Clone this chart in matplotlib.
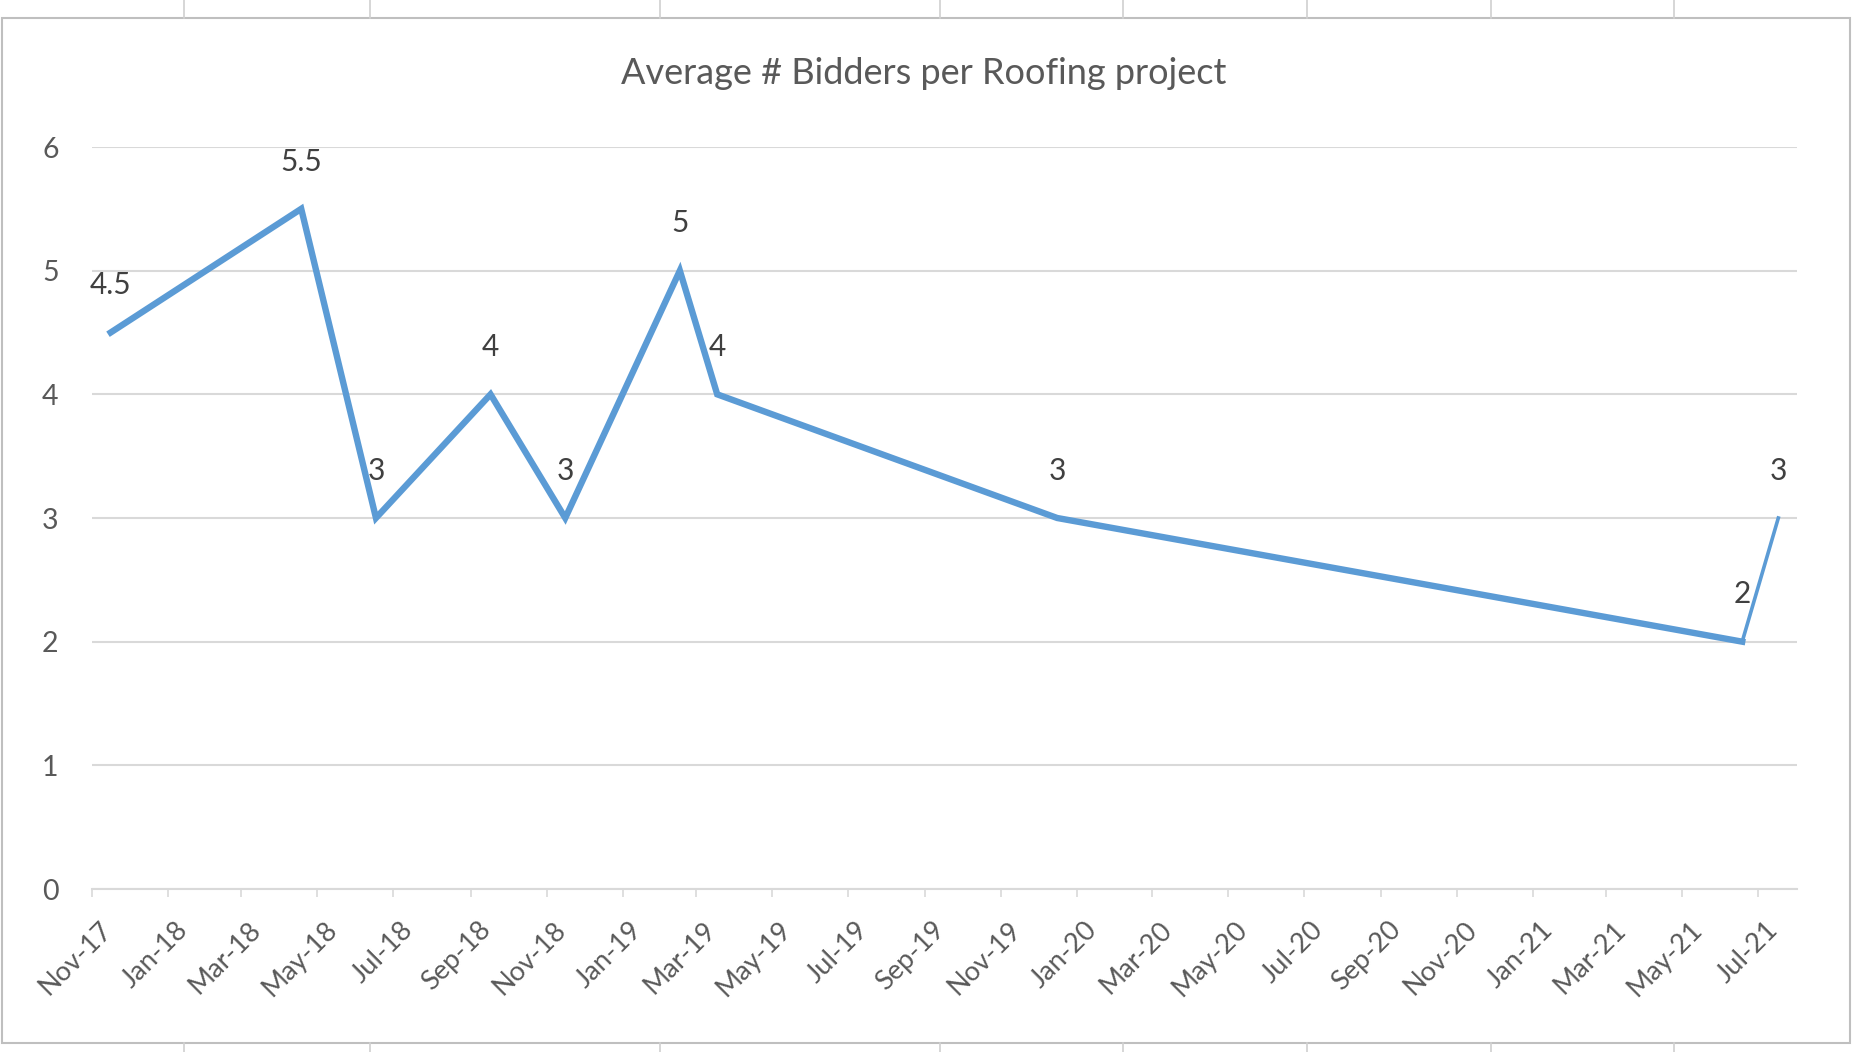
import pandas as pd
import matplotlib
matplotlib.use("Agg")
import matplotlib.pyplot as plt
import matplotlib.dates as mdates
import matplotlib.transforms as mtransforms
from matplotlib.lines import Line2D
from matplotlib.patches import Rectangle

# data
dates = ["2017-11-16", "2018-04-18", "2018-06-17", "2018-09-17", "2018-11-16",
         "2019-02-16", "2019-03-18", "2019-12-16", "2021-06-18", "2021-07-17"]
bidders = [4.5, 5.5, 3, 4, 3, 5, 4, 3, 2, 3]
labels = ["4.5", "5.5", "3", "4", "3", "5", "4", "3", "2", "3"]
title = "Average # Bidders per Roofing project"

x_start = "2017-11-01"
x_end = "2021-08-01"

LINE = "#5B9BD5"
TEXT = "#595959"
GRID = "#D9D9D9"

plt.rcParams["font.family"] = ["Lato", "DejaVu Sans"]


def main():
    x = pd.to_datetime(dates)
    fig = plt.figure(figsize=(18.57, 10.52), dpi=100)
    ax = fig.add_axes([92 / 1857, 1 - 889 / 1052, (1797 - 92) / 1857, (889 - 147) / 1052])

    # last segment renders thinner in the original
    ax.plot(x[:-1], bidders[:-1], color=LINE, lw=4.6, solid_joinstyle="miter", zorder=3)
    ax.plot(x[-2:], bidders[-2:], color=LINE, lw=2.6, zorder=3)

    for xi, yi, lab in zip(x, bidders, labels):
        ax.annotate(lab, (xi, yi), xytext=(0, 34), textcoords="offset points",
                    ha="center", va="center", fontsize=21.5, color="#404040", zorder=4)

    ax.set_xlim(pd.Timestamp(x_start), pd.Timestamp(x_end))
    ax.set_ylim(0, 6)
    ax.set_yticks(range(0, 7))
    ax.xaxis.set_major_locator(mdates.MonthLocator(bymonth=(1, 3, 5, 7, 9, 11)))
    ax.xaxis.set_major_formatter(mdates.DateFormatter("%b-%y"))

    ax.grid(axis="y", color=GRID, lw=1.5)
    ax.set_axisbelow(True)
    for s in ["left", "right", "top"]:
        ax.spines[s].set_visible(False)
    ax.spines["bottom"].set_color(GRID)
    ax.spines["bottom"].set_linewidth(1.5)
    ax.tick_params(axis="y", length=0, pad=24, labelsize=20.5, labelcolor=TEXT)
    ax.tick_params(axis="x", length=6, width=1.2, color=GRID, pad=14,
                   labelsize=19.5, labelcolor=TEXT)
    shift = mtransforms.ScaledTranslation(5 / 72, 0, fig.dpi_scale_trans)
    for t in ax.get_xticklabels():
        t.set_rotation(45)
        t.set_ha("right")
        t.set_va("top")
        t.set_rotation_mode("anchor")
        t.set_transform(t.get_transform() + shift)

    fig.text(924 / 1857, 1 - 73 / 1052, title, ha="center", va="center",
             fontsize=26, color=TEXT)

    # chart area border and surrounding sheet lines
    fig.add_artist(Rectangle((2 / 1857, 1 - 1043 / 1052), 1848 / 1857, 1025 / 1052,
                             transform=fig.transFigure, fill=False,
                             edgecolor="#BFBFBF", lw=1.5))
    for px in [184, 370, 660, 940, 1123, 1307, 1491, 1674]:
        fig.add_artist(Line2D([px / 1857] * 2, [1, 1 - 18 / 1052],
                              transform=fig.transFigure, color="#D0D0D0", lw=1.2))
        fig.add_artist(Line2D([px / 1857] * 2, [1 - 1043 / 1052, 0],
                              transform=fig.transFigure, color="#D0D0D0", lw=1.2))

    fig.savefig("out.png", dpi=100)


if __name__ == '__main__':
    main()
